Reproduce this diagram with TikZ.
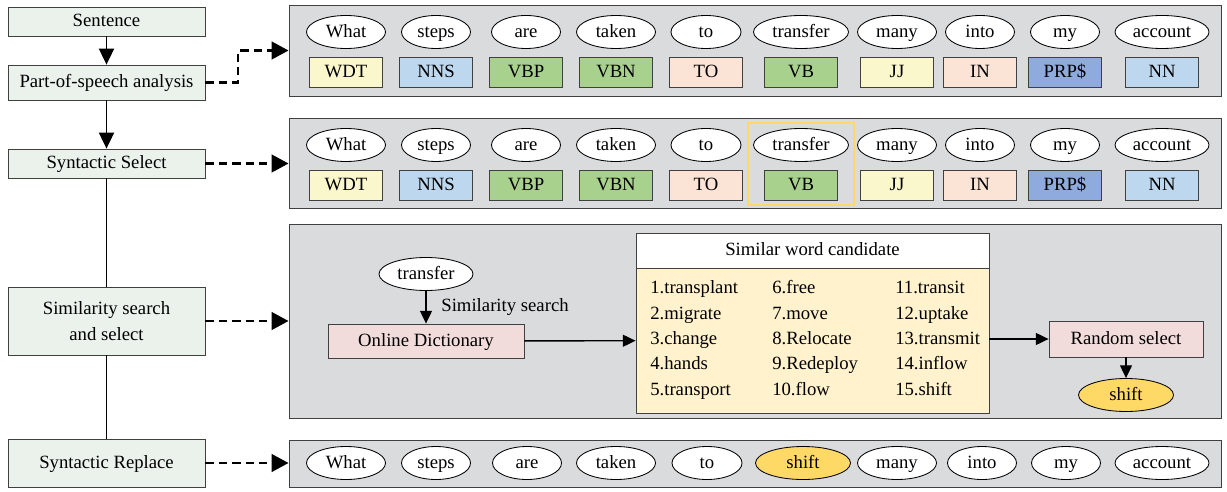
\documentclass[tikz,border=0pt]{standalone}
\usepackage{fontspec}
\setmainfont{Liberation Serif}
\usetikzlibrary{arrows.meta}
\usetikzlibrary{fit}
\usetikzlibrary{shapes.geometric}

\definecolor{stepfill}{HTML}{EAF2EB}
\definecolor{panelfill}{HTML}{DADBDD}
\definecolor{tagyellow}{HTML}{FBF7CD}
\definecolor{tagblue}{HTML}{BDD7EE}
\definecolor{taggreen}{HTML}{A9D18E}
\definecolor{tagsalmon}{HTML}{FBE3D6}
\definecolor{tagnavy}{HTML}{8FAADC}
\definecolor{dictpink}{HTML}{F2DCDB}
\definecolor{candfill}{HTML}{FFF2CC}
\definecolor{gold}{HTML}{FFD966}
\definecolor{edge}{HTML}{404040}

\tikzset{
  txt/.style={font=\fontsize{13.3}{15}\selectfont},
  even/.style={text height=10pt, text depth=2.5pt},
  stepbox/.style={txt, draw=edge, line width=0.6pt, fill=stepfill, minimum width=197*0.025cm, align=center, inner sep=2pt},
  panel/.style={draw=edge, line width=0.7pt, fill=panelfill, minimum width=932*0.025cm},
  word/.style={txt, even, ellipse, draw=black, line width=0.6pt, fill=white, minimum height=33*0.025cm, inner sep=0pt},
  tag/.style={txt, even, draw=edge, line width=0.6pt, minimum width=73*0.025cm, minimum height=30*0.025cm, inner sep=0pt},
  bigarrow/.style={line width=0.9pt, -{Triangle[length=0.4cm,width=0.38cm]}},
  dasharrow/.style={line width=1.5pt, dash pattern=on 6pt off 3.5pt, -{Triangle[length=0.42cm,width=0.44cm]}},
  smallarrow/.style={line width=1pt, -{Triangle[length=0.32cm,width=0.3cm]}},
}

\begin{document}
\begin{tikzpicture}[x=0.025cm, y=-0.025cm]
\useasboundingbox (0,0) rectangle (1227,492);

% steps on the left
\node[stepbox, even, minimum height=29*0.025cm] (sent) at (106.5,21.5) {Sentence};
\node[stepbox, even, minimum height=35*0.025cm] (pos) at (106.5,82.5) {Part-of-speech analysis};
\node[stepbox, even, minimum height=29*0.025cm] (sel) at (106.5,163.5) {Syntactic Select};
\node[stepbox, minimum height=68*0.025cm] (sim) at (106.5,321) {Similarity search\\[3pt]and select};
\node[stepbox, even, minimum height=48*0.025cm] (rep) at (106.5,463) {Syntactic Replace};

\draw[bigarrow] (sent) -- (pos);
\draw[bigarrow] (pos) -- (sel);
\draw[line width=0.9pt] (sel) -- (sim);
\draw[line width=0.9pt] (sim) -- (rep);

% grey panels
\node[panel, minimum height=91*0.025cm] (pan1) at (755,50.5) {};
\node[panel, minimum height=90*0.025cm] (pan2) at (755,163) {};
\node[panel, minimum height=194*0.025cm] (pan3) at (755,321) {};
\node[panel, minimum height=47*0.025cm] (pan4) at (755,463.5) {};

\draw[dasharrow] (pos.east) -- ++(33,0) |- (pan1.west);
\draw[dasharrow] (sel.east) -- (sel.east -| pan2.west);
\draw[dasharrow] (sim.east) -- (sim.east -| pan3.west);
\draw[dasharrow] (rep.east) -- (rep.east -| pan4.west);

% words and tags
\foreach \r/\yw/\yt in {1/32/72, 2/145/185} {
  \foreach \i/\w/\x/\ew/\t/\c in {1/What/346/79/WDT/tagyellow, 2/steps/436/69/NNS/tagblue,
      3/are/526/69/VBP/taggreen, 4/taken/616/79/VBN/taggreen, 5/to/706/70/TO/tagsalmon,
      6/transfer/801/95/VB/taggreen, 7/many/897/79/JJ/tagyellow, 8/into/980/69/IN/tagsalmon,
      9/my/1065/69/PRP\$/tagnavy, 10/account/1162/94/NN/tagblue} {
    \node[word, minimum width=\ew*0.025cm] (p\r w\i) at (\x,\yw) {\w};
    \node[tag, fill=\c] (p\r t\i) at (\x,\yt) {\t};
  }
}
\node[draw=gold, line width=1.6pt, fit=(p2w6)(p2t6), inner sep=0.12cm] (pick) {};

% similarity search
\node[word, minimum width=94*0.025cm] (src) at (426,274) {transfer};
\node[txt, even, draw=edge, line width=0.6pt, fill=dictpink, minimum width=196*0.025cm, minimum height=34*0.025cm] (dict) at (426,341) {Online Dictionary};
\draw[smallarrow] (src) -- (dict) node[midway, right, xshift=0.25cm, txt] {Similarity search};

\node[txt, even, draw=edge, line width=0.6pt, fill=white, minimum width=353*0.025cm, minimum height=35*0.025cm] (candhead) at (812.5,250.5) {Similar word candidate};
\node[draw=edge, line width=0.6pt, fill=candfill, minimum width=353*0.025cm, minimum height=145*0.025cm] (cand) at (812.5,340.5) {};
\foreach \x/\y/\w [count=\n] in {650/288/1.transplant, 650/314/2.migrate, 650/339/3.change, 650/364/4.hands, 650/390/5.transport,
    772/288/6.free, 772/314/7.move, 772/339/8.Relocate, 772/364/9.Redeploy, 772/390/10.flow,
    895/288/11.transit, 895/314/12.uptake, 895/339/13.transmit, 895/364/14.inflow, 895/390/15.shift}
  \node[txt, even, anchor=west, inner sep=0pt] (c\n) at (\x,\y) {\w};
\draw[smallarrow] (dict) -- (cand);

\node[txt, even, draw=edge, line width=0.6pt, fill=dictpink, minimum width=154*0.025cm, minimum height=36*0.025cm] (rand) at (1126,339) {Random select};
\draw[smallarrow] (cand.east |- rand.west) -- (rand.west);
\node[word, fill=gold, minimum width=95*0.025cm] (out) at (1126,395) {shift};
\draw[smallarrow] (rand) -- (out);

% replaced sentence
\foreach \i/\w/\x/\ew/\c in {1/What/346/79/white, 2/steps/436/69/white, 3/are/527/69/white,
    4/taken/616/79/white, 5/to/707/70/white, 6/shift/803/95/gold, 7/many/897/79/white,
    8/into/982/69/white, 9/my/1066/69/white, 10/account/1162/94/white}
  \node[word, fill=\c, minimum width=\ew*0.025cm] (p4w\i) at (\x,463) {\w};
\end{tikzpicture}
\end{document}
